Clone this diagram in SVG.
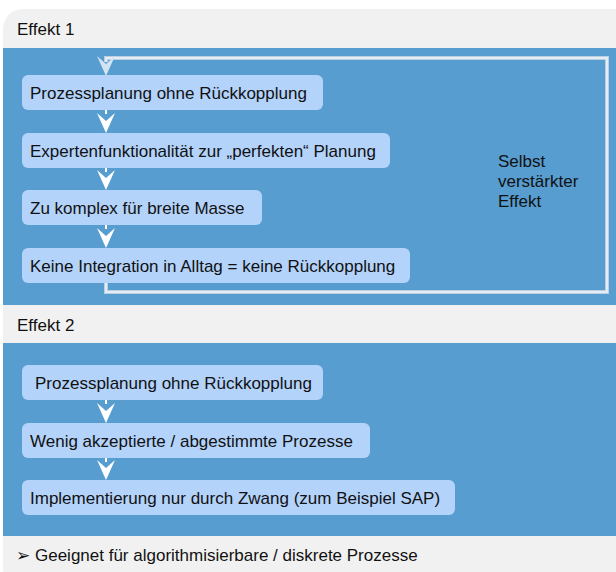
<svg xmlns="http://www.w3.org/2000/svg" width="616" height="572" viewBox="0 0 616 572">
<style>
.t{font-family:"Liberation Sans",Arial,"DejaVu Sans",sans-serif;font-size:17px;fill:#111}
.node{fill:#b3d3fb}
.band{fill:#579dd0}
.arr{fill:#ffffff}
.loop{fill:none;stroke:#b9d0e3;stroke-width:4}
.loopi{fill:none;stroke:#e4edf5;stroke-width:2}
</style>
<defs>
<path id="ah" d="M-9,-20 L0,-12 L9,-20 L0,0 Z"/>
</defs>
<rect x="3" y="9" width="630" height="580" rx="20" fill="#f1f1f1"/>
<rect class="band" x="3" y="48" width="613" height="257"/>
<rect class="band" x="3" y="343" width="613" height="193"/>
<text class="t" x="17" y="35">Effekt 1</text>
<text class="t" x="17" y="331">Effekt 2</text>
<text class="t" x="16" y="561">➢ Geeignet für algorithmisierbare / diskrete Prozesse</text>
<g id="connectors">
<path class="loop" d="M106,283 V292 H607 V58 H106 V62"/>
<path class="loopi" d="M106,283 V292 H607 V58 H106 V62"/>
<use href="#ah" x="106" y="76" fill="#d2e3f1"/>
<g class="arr">
<rect x="105" y="110" width="2" height="4"/><use href="#ah" x="106" y="133"/>
<rect x="105" y="168" width="2" height="4"/><use href="#ah" x="106" y="190"/>
<rect x="105" y="225" width="2" height="4"/><use href="#ah" x="106" y="248"/>
<rect x="105" y="400" width="2" height="4"/><use href="#ah" x="106" y="423"/>
<rect x="105" y="458" width="2" height="4"/><use href="#ah" x="106" y="480"/>
</g>
</g>
<g id="e1n1"><rect class="node" x="22" y="75" width="301" height="35" rx="6"/><text class="t" x="30" y="99">Prozessplanung ohne Rückkopplung</text></g>
<g id="e1n2"><rect class="node" x="22" y="133" width="368" height="35" rx="6"/><text class="t" x="30" y="157">Expertenfunktionalität zur „perfekten“ Planung</text></g>
<g id="e1n3"><rect class="node" x="22" y="190" width="240" height="35" rx="6"/><text class="t" x="30" y="214">Zu komplex für breite Masse</text></g>
<g id="e1n4"><rect class="node" x="22" y="248" width="388" height="35" rx="6"/><text class="t" x="30" y="272">Keine Integration in Alltag = keine Rückkopplung</text></g>
<g id="loopLabel"><text class="t" x="498" y="167">Selbst</text><text class="t" x="498" y="187">verstärkter</text><text class="t" x="498" y="207">Effekt</text></g>
<g id="e2n1"><rect class="node" x="22" y="365" width="301" height="35" rx="6"/><text class="t" x="35" y="389">Prozessplanung ohne Rückkopplung</text></g>
<g id="e2n2"><rect class="node" x="22" y="423" width="348" height="35" rx="6"/><text class="t" x="30" y="447">Wenig akzeptierte / abgestimmte Prozesse</text></g>
<g id="e2n3"><rect class="node" x="22" y="480" width="433" height="35" rx="6"/><text class="t" x="30" y="504">Implementierung nur durch Zwang (zum Beispiel SAP)</text></g>
</svg>
